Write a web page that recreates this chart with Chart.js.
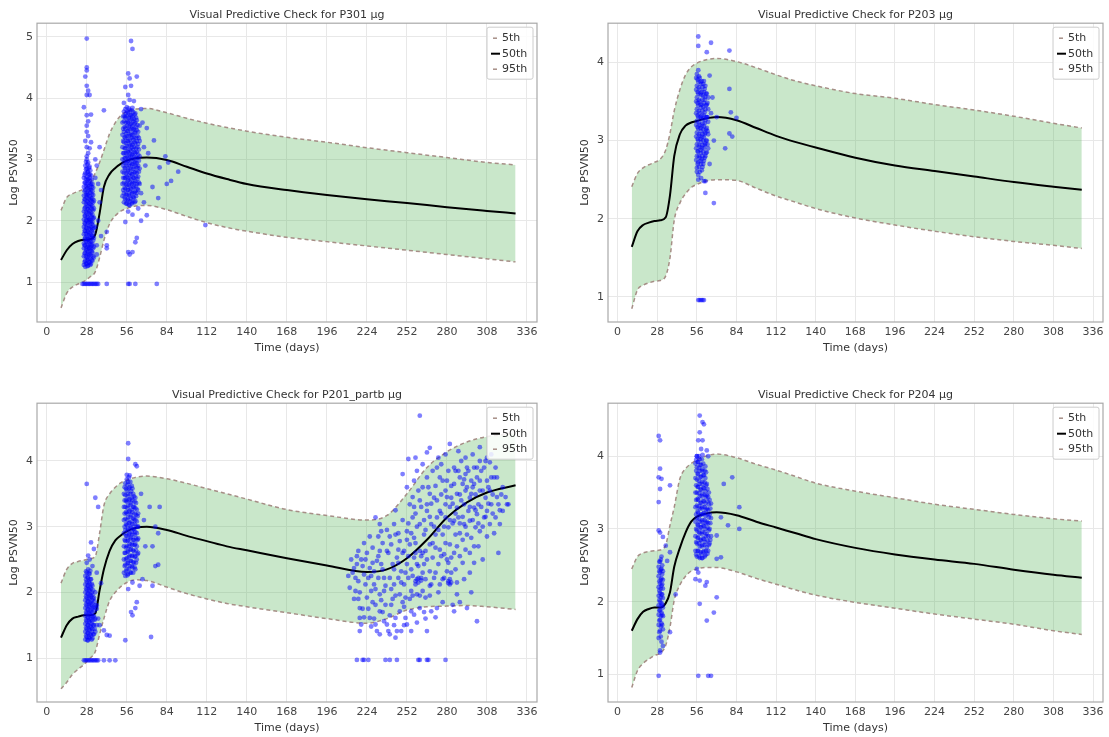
<!DOCTYPE html>
<html>
<head>
<meta charset="utf-8">
<title>Visual Predictive Check</title>
<script src="https://cdn.jsdelivr.net/npm/chart.js@4.4.1/dist/chart.umd.min.js"></script>
<style>
  html, body { margin: 0; padding: 0; background: #fff; overflow: hidden; }
  body { width: 1109px; height: 737px; position: relative; }
  canvas { position: absolute; }
</style>
</head>
<body>
<canvas id="p301" width="555" height="368" style="left:0px;top:0px"></canvas>
<canvas id="p203" width="538" height="368" style="left:571px;top:0px"></canvas>
<canvas id="p201" width="555" height="368" style="left:0px;top:380px"></canvas>
<canvas id="p204" width="538" height="368" style="left:571px;top:380px"></canvas>
<script>
// ---- data ----
const xTicks = [0, 28, 56, 84, 112, 140, 168, 196, 224, 252, 280, 308, 336];
const gridDays = [10, 14, 18, 22, 26, 30, 34, 37, 40, 44, 48, 52, 56, 62, 70, 84, 98, 112, 126, 140, 168, 196, 224, 252, 280, 308, 328];
const blDays = [10, 14, 18, 22, 26, 30, 34, 37, 40, 44, 48, 52, 56, 62, 70, 84, 98, 112, 126, 140, 168, 196, 224, 238, 252, 266, 280, 294, 308, 328];

// P301
const tlP5 = [0.58, 0.82, 0.92, 0.97, 1.01, 1.08, 1.17, 1.40, 1.68, 1.95, 2.08, 2.16, 2.20, 2.24, 2.25, 2.18, 2.07, 1.97, 1.89, 1.83, 1.73, 1.66, 1.59, 1.52, 1.45, 1.38, 1.33];
const tlP50 = [1.36, 1.52, 1.62, 1.67, 1.69, 1.70, 1.78, 2.12, 2.55, 2.76, 2.86, 2.93, 2.98, 3.02, 3.03, 2.99, 2.88, 2.77, 2.68, 2.60, 2.50, 2.42, 2.35, 2.29, 2.22, 2.16, 2.12];
const tlP95 = [2.17, 2.38, 2.44, 2.48, 2.52, 2.60, 2.78, 2.95, 3.15, 3.42, 3.60, 3.72, 3.78, 3.82, 3.83, 3.76, 3.67, 3.59, 3.52, 3.46, 3.36, 3.28, 3.19, 3.11, 3.03, 2.95, 2.91];
const tlCols = [
  [26, [1.28, 1.42, 1.55, 1.63, 1.78, 1.9, 2.02, 2.15, 2.3, 2.41, 2.55, 2.7]],
  [26.5, [1.33, 1.47, 1.6, 1.7, 1.84, 1.96, 2.08, 2.2, 2.35, 2.48, 2.62, 2.75]],
  [27, [1.25, 1.35, 1.48, 1.6, 1.72, 1.83, 1.95, 2.08, 2.22, 2.35, 2.5, 2.62, 2.78, 2.9]],
  [27.5, [1.3, 1.42, 1.54, 1.66, 1.78, 1.89, 2.01, 2.14, 2.28, 2.42, 2.56, 2.68, 2.84, 2.96]],
  [28, [1.3, 1.4, 1.52, 1.66, 1.75, 1.88, 2.0, 2.12, 2.25, 2.38, 2.46, 2.6, 2.72, 2.85, 3.0]],
  [28.5, [1.26, 1.36, 1.46, 1.58, 1.7, 1.82, 1.94, 2.06, 2.19, 2.32, 2.42, 2.53, 2.66, 2.79, 2.92]],
  [29, [1.27, 1.38, 1.5, 1.6, 1.7, 1.82, 1.97, 2.05, 2.18, 2.3, 2.44, 2.57, 2.68, 2.8, 2.95]],
  [29.5, [1.32, 1.44, 1.55, 1.65, 1.76, 1.88, 2.01, 2.12, 2.24, 2.36, 2.5, 2.62, 2.74, 2.86]],
  [30, [1.32, 1.45, 1.57, 1.68, 1.8, 1.92, 2.03, 2.16, 2.28, 2.4, 2.52, 2.65, 2.76, 2.88]],
  [30.5, [1.28, 1.38, 1.51, 1.62, 1.74, 1.86, 1.98, 2.1, 2.22, 2.34, 2.46, 2.58, 2.7, 2.82]],
  [31, [1.3, 1.43, 1.55, 1.66, 1.77, 1.9, 2.0, 2.13, 2.26, 2.37, 2.5, 2.6, 2.74]],
  [31.5, [1.36, 1.5, 1.6, 1.72, 1.83, 1.95, 2.06, 2.19, 2.31, 2.43, 2.55, 2.67]],
  [32, [1.35, 1.48, 1.62, 1.75, 1.86, 1.98, 2.1, 2.24, 2.36, 2.48, 2.6]],
  [32.5, [1.42, 1.55, 1.68, 1.8, 1.92, 2.04, 2.17, 2.3, 2.42, 2.54]],
  [33, [1.4, 1.58, 1.72, 1.88, 2.05, 2.2, 2.33]],
  [53, [2.4, 2.6, 2.8, 3.0, 3.2, 3.4, 3.6]],
  [53.5, [2.5, 2.7, 2.9, 3.1, 3.3, 3.5, 3.7]],
  [54, [2.3, 2.45, 2.62, 2.78, 2.95, 3.1, 3.28, 3.45, 3.62, 3.78]],
  [54.5, [2.38, 2.54, 2.7, 2.86, 3.02, 3.18, 3.36, 3.53, 3.7]],
  [55, [2.35, 2.52, 2.7, 2.85, 3.02, 3.18, 3.35, 3.5, 3.68, 3.82]],
  [55.5, [2.28, 2.44, 2.6, 2.77, 2.94, 3.1, 3.26, 3.42, 3.6, 3.75]],
  [56, [2.28, 2.42, 2.58, 2.72, 2.9, 3.05, 3.22, 3.38, 3.55, 3.7, 3.85]],
  [56.5, [2.35, 2.5, 2.65, 2.8, 2.97, 3.13, 3.3, 3.46, 3.62, 3.78]],
  [57, [2.33, 2.5, 2.66, 2.82, 2.98, 3.12, 3.3, 3.46, 3.6, 3.76]],
  [57.5, [2.26, 2.42, 2.58, 2.74, 2.9, 3.05, 3.21, 3.38, 3.53, 3.68, 3.83]],
  [58, [2.25, 2.4, 2.55, 2.7, 2.86, 3.02, 3.16, 3.32, 3.5, 3.65, 3.8]],
  [58.5, [2.32, 2.48, 2.62, 2.78, 2.94, 3.09, 3.24, 3.4, 3.57, 3.72]],
  [59, [2.36, 2.52, 2.68, 2.84, 3.0, 3.14, 3.27, 3.42, 3.58, 3.72]],
  [59.5, [2.28, 2.44, 2.6, 2.76, 2.92, 3.07, 3.2, 3.35, 3.5, 3.65, 3.8]],
  [60, [2.3, 2.46, 2.62, 2.76, 2.92, 3.08, 3.24, 3.4, 3.55, 3.7, 3.84]],
  [60.5, [2.38, 2.54, 2.7, 2.84, 3.0, 3.16, 3.32, 3.48, 3.62, 3.77]],
  [61, [2.38, 2.55, 2.7, 2.88, 3.04, 3.2, 3.36, 3.5, 3.66]],
  [61.5, [2.3, 2.46, 2.62, 2.79, 2.96, 3.12, 3.28, 3.43, 3.58, 3.73]],
  [62, [2.32, 2.48, 2.65, 2.8, 2.95, 3.1, 3.26, 3.44, 3.6, 3.75]],
  [62.5, [2.4, 2.56, 2.72, 2.88, 3.03, 3.18, 3.35, 3.52, 3.68]],
  [63, [2.45, 2.6, 2.78, 2.94, 3.12, 3.3, 3.48, 3.64]],
  [63.5, [2.52, 2.68, 2.86, 3.02, 3.2, 3.38, 3.56]],
  [64, [2.5, 2.72, 2.9, 3.08, 3.25, 3.45]],
  [64.5, [2.62, 2.8, 2.98, 3.16, 3.35]],
  [65, [2.6, 2.85, 3.05, 3.3, 3.55]]
];
const tlPts = [
  [28, 3.05], [29, 3.1], [28, 3.2], [30, 3.18], [27, 3.3], [29, 3.38], [28, 3.45], [31, 3.28], [37, 3.2], [28, 3.55],
  [29, 3.62], [28, 3.72], [26, 3.85], [31, 3.73], [28, 4.05], [30, 4.05], [29, 4.12], [28, 4.2], [27, 4.35], [28, 4.45],
  [28, 4.5], [28, 4.97], [40, 3.8], [34, 3.0], [35, 2.9], [36, 2.6], [38, 2.5], [37, 2.3], [34, 2.7],
  [34, 1.9], [35, 1.6], [38, 1.75], [42, 1.82], [42, 1.6], [42, 1.55], [36, 2.0], [35, 1.45],
  [59, 4.93], [60, 4.8], [57, 4.4], [58, 4.32], [63, 4.35], [55, 4.18], [59, 4.2], [57, 4.05], [58, 3.97], [54, 3.92],
  [61, 3.95], [66, 3.82], [70, 3.51], [75, 3.31], [79, 2.87], [83, 3.05], [85, 2.95], [87, 2.65], [92, 2.8], [74, 2.55],
  [70, 2.09], [78, 2.37], [84, 2.6], [111, 1.93], [57, 1.49], [58, 1.45], [60, 1.49], [62, 1.65], [63, 1.72], [60, 2.1],
  [57, 2.15], [55, 1.98], [66, 2.0], [64, 2.2], [68, 2.3], [67, 3.6], [68, 3.2], [69, 2.9], [71, 3.1], [66, 2.45],
  [25, 0.97], [26, 0.97], [27, 0.97], [28, 0.97], [29, 0.97], [30, 0.97], [31, 0.97], [32, 0.97], [33, 0.97], [34, 0.97],
  [35, 0.97], [36, 0.97], [42, 0.97], [57, 0.97], [58, 0.97], [62, 0.97], [77, 0.97]
];

// P203
const trP5 = [0.85, 1.09, 1.15, 1.18, 1.20, 1.21, 1.27, 1.50, 1.98, 2.20, 2.32, 2.40, 2.44, 2.48, 2.50, 2.49, 2.39, 2.29, 2.21, 2.13, 2.01, 1.92, 1.84, 1.77, 1.71, 1.66, 1.62];
const trP50 = [1.64, 1.84, 1.92, 1.95, 1.97, 1.98, 2.02, 2.30, 2.80, 3.08, 3.19, 3.23, 3.25, 3.28, 3.30, 3.26, 3.16, 3.06, 2.98, 2.91, 2.78, 2.68, 2.61, 2.54, 2.47, 2.41, 2.37];
const trP95 = [2.41, 2.58, 2.65, 2.69, 2.72, 2.76, 2.88, 3.09, 3.38, 3.65, 3.84, 3.94, 3.99, 4.03, 4.05, 4.01, 3.93, 3.84, 3.76, 3.70, 3.60, 3.54, 3.46, 3.39, 3.31, 3.22, 3.16];
const trCols = [
  [55.5, [2.75, 2.9, 3.05, 3.2, 3.35, 3.5, 3.65, 3.8]],
  [56, [2.65, 2.8, 2.95, 3.1, 3.25, 3.4, 3.55, 3.7, 3.85]],
  [56.5, [2.7, 2.86, 3.02, 3.17, 3.32, 3.48, 3.62, 3.78]],
  [57, [2.72, 2.86, 3.0, 3.15, 3.3, 3.45, 3.6, 3.75]],
  [57.5, [2.66, 2.8, 2.94, 3.08, 3.23, 3.38, 3.52, 3.68, 3.82]],
  [58, [2.6, 2.78, 2.92, 3.06, 3.2, 3.35, 3.5, 3.65, 3.8]],
  [58.5, [2.74, 2.88, 3.02, 3.16, 3.3, 3.46, 3.6, 3.75]],
  [59, [2.7, 2.84, 2.98, 3.12, 3.28, 3.42, 3.58, 3.72]],
  [59.5, [2.62, 2.76, 2.9, 3.04, 3.18, 3.32, 3.46, 3.62, 3.76]],
  [60, [2.66, 2.8, 2.94, 3.08, 3.22, 3.38, 3.52, 3.68]],
  [60.5, [2.7, 2.85, 3.0, 3.14, 3.28, 3.43, 3.57, 3.72]],
  [61, [2.74, 2.9, 3.04, 3.18, 3.32, 3.48, 3.62, 3.76]],
  [61.5, [2.78, 2.94, 3.08, 3.22, 3.36, 3.52, 3.66]],
  [62, [2.8, 2.96, 3.1, 3.26, 3.4, 3.56, 3.7]],
  [62.5, [2.84, 3.0, 3.14, 3.3, 3.45, 3.6]],
  [63, [2.85, 3.0, 3.16, 3.3, 3.46, 3.6]],
  [63.5, [2.95, 3.12, 3.3, 3.48]],
  [64, [2.9, 3.08, 3.24, 3.4, 3.55]]
];
const trPts = [
  [57, 4.33], [57, 4.21], [66, 4.25], [63, 4.13], [79, 4.15], [57, 3.9], [65, 3.83], [79, 3.66], [80, 3.36], [84, 3.29],
  [79, 3.09], [81, 3.05], [76, 2.9], [57, 2.56], [57, 2.5], [61, 2.48], [62, 2.48], [62, 2.33], [68, 2.2], [66, 3.35],
  [68, 3.0], [67, 3.55], [70, 3.3], [65, 2.7], [56, 2.6], [59, 2.52],
  [57, 0.96], [58, 0.96], [59, 0.96], [60, 0.96], [61, 0.96]
];

// P201_partb
const blP5 = [0.53, 0.63, 0.75, 0.83, 0.90, 0.99, 1.10, 1.36, 1.60, 1.87, 2.00, 2.09, 2.15, 2.19, 2.18, 2.08, 1.98, 1.90, 1.83, 1.78, 1.69, 1.60, 1.53, 1.60, 1.73, 1.78, 1.79, 1.80, 1.78, 1.74];
const blP50 = [1.31, 1.50, 1.60, 1.63, 1.65, 1.65, 1.68, 2.03, 2.35, 2.63, 2.79, 2.87, 2.93, 2.98, 3.00, 2.95, 2.86, 2.78, 2.70, 2.64, 2.52, 2.41, 2.31, 2.35, 2.52, 2.80, 3.14, 3.37, 3.52, 3.63];
const blP95 = [2.14, 2.35, 2.44, 2.47, 2.49, 2.51, 2.55, 2.90, 3.32, 3.50, 3.60, 3.67, 3.71, 3.75, 3.77, 3.73, 3.66, 3.58, 3.50, 3.42, 3.26, 3.17, 3.10, 3.17, 3.50, 3.90, 4.14, 4.29, 4.37, 4.42];
const blCols = [
  [27, [1.28, 1.4, 1.52, 1.64, 1.76, 1.88, 2.0, 2.12, 2.25]],
  [27.5, [1.34, 1.46, 1.58, 1.7, 1.82, 1.94, 2.06, 2.19, 2.32]],
  [28, [1.32, 1.44, 1.56, 1.68, 1.8, 1.92, 2.04, 2.16, 2.3]],
  [28.5, [1.27, 1.38, 1.5, 1.62, 1.74, 1.86, 1.98, 2.1, 2.23]],
  [29, [1.27, 1.38, 1.5, 1.62, 1.74, 1.86, 1.98, 2.1, 2.22, 2.35]],
  [29.5, [1.32, 1.44, 1.56, 1.68, 1.8, 1.92, 2.04, 2.16, 2.29]],
  [30, [1.3, 1.42, 1.54, 1.66, 1.78, 1.9, 2.02, 2.14, 2.28]],
  [30.5, [1.36, 1.48, 1.6, 1.72, 1.84, 1.96, 2.08, 2.2, 2.33]],
  [31, [1.34, 1.46, 1.58, 1.7, 1.82, 1.94, 2.06, 2.2]],
  [31.5, [1.28, 1.4, 1.52, 1.64, 1.76, 1.88, 2.0, 2.13]],
  [32, [1.3, 1.44, 1.57, 1.7, 1.83, 1.96, 2.1]],
  [32.5, [1.36, 1.5, 1.63, 1.76, 1.9, 2.03]],
  [33, [1.36, 1.5, 1.64, 1.78, 1.92]],
  [33.5, [1.44, 1.58, 1.72, 1.86]],
  [34, [1.4, 1.6, 1.8, 2.0]],
  [35, [1.5, 1.75]],
  [54, [2.3, 2.5, 2.7, 2.9, 3.1, 3.3, 3.5]],
  [54.5, [2.4, 2.6, 2.8, 3.0, 3.2, 3.4, 3.6]],
  [55, [2.25, 2.42, 2.6, 2.78, 2.95, 3.12, 3.3, 3.48, 3.66]],
  [55.5, [2.32, 2.5, 2.68, 2.86, 3.04, 3.22, 3.4, 3.58]],
  [56, [2.35, 2.52, 2.7, 2.86, 3.02, 3.2, 3.38, 3.55, 3.72]],
  [56.5, [2.26, 2.44, 2.62, 2.78, 2.94, 3.1, 3.28, 3.46, 3.64]],
  [57, [2.28, 2.45, 2.62, 2.8, 2.97, 3.14, 3.32, 3.5, 3.68]],
  [57.5, [2.36, 2.54, 2.7, 2.88, 3.05, 3.22, 3.4, 3.58, 3.75]],
  [58, [2.4, 2.56, 2.74, 2.9, 3.06, 3.24, 3.42, 3.6, 3.78]],
  [58.5, [2.3, 2.48, 2.65, 2.82, 2.98, 3.15, 3.33, 3.5, 3.68]],
  [59, [2.3, 2.48, 2.66, 2.84, 3.0, 3.18, 3.36, 3.54]],
  [59.5, [2.4, 2.56, 2.74, 2.92, 3.08, 3.26, 3.44, 3.62]],
  [60, [2.38, 2.55, 2.72, 2.88, 3.04, 3.22, 3.4, 3.58]],
  [60.5, [2.3, 2.46, 2.64, 2.8, 2.96, 3.13, 3.3, 3.5]],
  [61, [2.45, 2.62, 2.8, 2.96, 3.12, 3.3, 3.46]],
  [61.5, [2.38, 2.54, 2.72, 2.88, 3.04, 3.2, 3.38]],
  [62, [2.35, 2.55, 2.74, 2.92, 3.1, 3.28, 3.44]],
  [62.5, [2.45, 2.64, 2.82, 3.0, 3.18, 3.36]],
  [63, [2.5, 2.7, 2.9, 3.08, 3.26]],
  [63.5, [2.58, 2.8, 3.0, 3.16]],
  [64, [2.6, 2.82, 3.0, 3.2]]
];
const blPts = [
  [28, 3.65], [34, 3.44], [36, 3.3], [31, 2.76], [29, 2.56], [33, 2.66], [28, 2.45], [30, 2.5], [32, 2.4], [35, 2.3],
  [38, 2.14], [40, 1.42], [42, 1.35], [44, 1.34], [35, 1.8], [36, 1.6], [37, 1.5],
  [26, 0.965], [27, 0.965], [28, 0.965], [29, 0.965], [30, 0.965], [31, 0.965], [32, 0.965], [33, 0.965], [34, 0.965],
  [35, 0.965], [36, 0.965], [40, 0.965], [44, 0.965], [48, 0.965],
  [57, 4.27], [57, 4.03], [62, 3.95], [63, 3.92], [56, 3.79], [72, 3.3], [79, 3.3], [78, 2.9], [74, 2.7], [76, 3.0],
  [63, 1.85], [62, 1.76], [60, 1.65], [59, 1.7], [55, 1.27], [73, 1.32], [76, 2.4], [78, 2.42], [74, 2.1], [67, 2.2],
  [66, 3.5], [68, 3.1], [65, 2.1], [57, 2.05], [60, 2.15], [69, 2.7]
];
const blCloud = [
  [211, 2.25], [212, 2.07], [213, 2.50], [215, 2.37], [216, 2.22], [216, 2.02], [217, 2.43], [218, 2.63], [219, 1.61], [219, 1.41],
  [219, 1.76], [220, 1.51], [218, 2.17], [220, 2.50], [222, 2.27], [223, 2.12], [223, 2.50], [224, 1.92], [225, 2.22], [226, 2.37],
  [226, 1.61], [227, 2.02], [227, 1.48], [228, 2.68], [229, 2.32], [229, 2.12], [230, 1.81], [230, 1.51], [231, 1.41], [231, 2.48],
  [232, 2.22], [233, 1.97], [233, 2.63], [233, 1.71], [230, 3.14], [233, 3.04], [234, 2.93], [234, 2.43], [236, 2.22], [236, 2.02],
  [237, 1.81], [238, 1.51], [238, 2.63], [239, 1.41], [240, 2.22], [241, 2.73], [241, 1.81], [242, 2.43], [243, 3.04], [243, 2.12],
  [244, 1.61], [244, 2.88], [245, 1.41], [245, 2.53], [246, 2.22], [247, 1.97], [247, 1.71], [244, 1.31], [248, 1.41], [247, 2.78],
  [248, 2.32], [250, 2.63], [250, 2.12], [251, 1.92], [251, 1.61], [252, 2.93], [252, 2.43], [253, 2.22], [254, 2.73], [254, 3.34],
  [255, 2.02], [255, 1.71], [256, 3.14], [257, 2.53], [257, 2.83], [258, 2.17], [258, 2.12], [259, 2.43], [259, 1.97], [260, 2.22],
  [261, 3.04], [261, 2.63], [261, 1.76], [259, 1.54], [262, 2.22], [263, 2.02], [264, 2.43], [264, 2.88], [265, 2.63], [265, 1.92],
  [266, 3.34], [266, 3.24], [267, 3.60], [268, 2.32], [268, 2.73], [269, 2.12], [269, 3.04], [270, 2.53], [271, 3.44], [271, 2.22],
  [272, 2.88], [272, 2.68], [273, 1.76], [273, 3.14], [274, 2.43], [275, 2.12], [275, 3.75], [275, 3.24], [276, 3.49], [277, 2.88],
  [278, 2.58], [278, 2.22], [279, 3.14], [279, 3.34], [280, 2.32], [280, 3.70], [281, 2.99], [282, 2.12], [282, 2.73], [283, 2.53],
  [283, 3.44], [284, 1.81], [285, 3.09], [285, 3.65], [286, 2.88], [286, 3.85], [287, 3.29], [287, 1.97], [288, 3.14], [289, 3.75],
  [289, 3.49], [281, 2.17], [283, 2.15], [285, 1.71], [290, 4.00], [291, 3.65], [292, 3.34], [292, 3.04], [293, 3.80], [293, 3.55],
  [294, 2.88], [294, 3.90], [295, 3.24], [296, 3.44], [296, 3.09], [297, 3.70], [297, 2.83], [298, 3.60], [299, 3.29], [299, 3.90],
  [300, 2.99], [300, 3.49], [301, 3.19], [301, 3.75], [302, 3.34], [303, 2.93], [303, 3.55], [294, 1.76], [301, 1.56], [304, 3.85],
  [306, 3.14], [307, 3.44], [307, 4.00], [308, 3.24], [309, 3.60], [310, 3.04], [311, 3.75], [311, 3.34], [312, 3.49], [314, 3.14],
  [315, 3.75], [316, 3.34], [317, 3.04], [318, 3.49], [319, 3.24], [322, 3.34], [323, 3.34], [303, 4.00], [310, 3.98],
  [261, 4.69], [253, 4.03], [266, 4.13], [274, 4.05], [282, 4.26], [293, 4.05], [308, 4.05], [303, 4.21], [273, 3.90],
  [233, 1.36], [240, 1.36], [252, 1.51], [255, 1.41], [266, 1.41], [269, 1.71],
  [252, 3.6], [256, 3.45], [258, 3.2], [260, 3.55], [262, 3.3], [264, 3.1], [257, 3.7], [259, 3.85], [263, 3.95], [268, 3.5],
  [270, 3.85], [276, 3.95], [279, 3.55], [282, 3.3], [284, 3.05], [287, 2.7], [289, 2.55], [291, 2.8], [296, 2.6], [299, 2.7],
  [305, 3.0], [308, 2.85], [313, 2.9], [316, 2.6], [246, 2.9], [249, 3.1], [244, 3.25], [238, 2.95], [235, 2.75], [226, 2.85],
  [222, 2.75], [215, 1.9], [221, 1.75], [228, 1.85], [235, 1.7], [242, 1.9], [249, 1.85], [255, 2.35], [262, 2.55], [268, 1.95],
  [275, 2.65], [280, 2.5], [286, 2.35], [292, 2.2], [262, 2.18], [260, 2.15], [281, 2.14], [282, 2.2], [259, 2.2],
  [214, 2.3], [217, 2.55], [219, 2.0], [221, 2.4], [224, 2.6], [225, 1.75], [227, 2.25], [228, 2.45], [230, 2.05], [232, 2.55],
  [234, 1.88], [235, 2.35], [237, 2.1], [239, 2.6], [240, 1.65], [241, 2.05], [243, 2.35], [244, 1.95], [246, 2.45], [248, 2.15],
  [249, 2.6], [250, 1.78], [251, 2.3], [253, 2.55], [254, 1.9], [256, 2.25], [257, 1.66], [258, 2.6], [260, 2.4], [261, 1.95],
  [263, 2.3], [264, 1.7], [265, 2.2], [218, 1.9], [222, 1.62], [229, 1.6], [236, 1.56], [243, 1.5], [250, 1.5], [256, 1.95],
  [263, 2.6], [258, 2.75], [252, 2.8], [246, 2.65], [240, 2.85], [232, 2.85],
  [253, 3.05], [255, 2.9], [257, 3.3], [259, 3.0], [261, 3.4], [263, 3.6], [265, 2.95], [266, 3.75], [268, 3.15], [269, 3.35],
  [271, 3.0], [272, 3.62], [273, 3.4], [274, 2.95], [276, 3.2], [277, 3.7], [278, 3.0], [280, 3.45], [281, 3.85], [282, 3.1],
  [283, 3.62], [284, 3.35], [285, 3.9], [286, 3.2], [287, 3.5], [288, 3.85], [289, 3.05], [290, 3.4], [291, 3.15], [292, 3.72],
  [293, 3.0], [294, 3.6], [295, 3.85], [296, 3.3], [297, 3.5], [298, 3.1], [299, 3.65], [300, 3.25], [301, 3.9], [302, 3.05],
  [303, 3.7], [304, 3.3], [305, 3.55], [306, 3.9], [307, 3.15], [308, 3.7], [309, 3.35], [310, 3.55], [312, 3.2], [313, 3.75],
  [315, 3.45], [317, 3.25], [319, 3.6], [321, 3.45], [314, 3.9], [311, 4.1], [298, 4.1], [288, 4.15], [279, 4.1], [268, 4.2],
  [258, 4.05], [249, 3.8],
  [266, 2.5], [268, 2.1], [270, 2.75], [272, 2.3], [274, 2.0], [276, 2.55], [277, 2.2], [279, 2.75], [281, 2.45], [283, 2.3],
  [285, 2.6], [287, 2.15], [289, 2.9], [291, 2.45], [293, 2.65], [296, 2.3], [299, 2.45], [302, 2.7], [305, 2.5], [277, 1.85],
  [272, 1.62], [265, 1.6], [289, 1.85], [297, 2.0],
  [217, 0.97], [221, 0.97], [222, 0.97], [225, 0.97], [237, 0.97], [240, 0.97], [245, 0.97], [260, 0.97], [261, 0.97],
  [266, 0.97], [267, 0.97], [279, 0.97]
];

// P204
const brP5 = [0.82, 1.05, 1.15, 1.21, 1.26, 1.29, 1.40, 1.65, 2.02, 2.23, 2.35, 2.42, 2.45, 2.47, 2.47, 2.41, 2.32, 2.24, 2.16, 2.09, 1.99, 1.91, 1.83, 1.76, 1.69, 1.60, 1.55];
const brP50 = [1.60, 1.76, 1.86, 1.90, 1.92, 1.92, 1.98, 2.13, 2.48, 2.74, 2.95, 3.10, 3.17, 3.21, 3.23, 3.19, 3.10, 3.02, 2.94, 2.86, 2.74, 2.65, 2.58, 2.52, 2.44, 2.37, 2.33];
const brP95 = [2.45, 2.62, 2.67, 2.69, 2.70, 2.71, 2.78, 3.05, 3.30, 3.69, 3.83, 3.90, 3.95, 4.00, 4.03, 3.98, 3.89, 3.81, 3.72, 3.63, 3.52, 3.43, 3.34, 3.27, 3.20, 3.14, 3.11];
const brCols = [
  [29, [1.5, 1.68, 1.82, 1.95, 2.08, 2.2, 2.35, 2.48]],
  [29.5, [1.58, 1.74, 1.88, 2.02, 2.15, 2.28, 2.42, 2.55]],
  [30, [1.3, 1.6, 1.75, 1.88, 2.0, 2.12, 2.25, 2.4, 2.55]],
  [30.5, [1.52, 1.66, 1.8, 1.94, 2.06, 2.18, 2.3, 2.44, 2.58]],
  [31, [1.45, 1.7, 1.85, 1.98, 2.1, 2.22, 2.32, 2.45, 2.62]],
  [31.5, [1.68, 1.82, 1.96, 2.1, 2.24, 2.38, 2.5]],
  [32, [1.62, 1.8, 1.92, 2.05, 2.18, 2.3, 2.42]],
  [55, [2.7, 2.9, 3.1, 3.3, 3.5, 3.7, 3.9]],
  [55.5, [2.65, 2.82, 3.0, 3.2, 3.4, 3.6, 3.8, 3.95]],
  [56, [2.62, 2.8, 2.98, 3.15, 3.32, 3.5, 3.68, 3.85, 4.0]],
  [56.5, [2.7, 2.88, 3.06, 3.24, 3.41, 3.58, 3.76, 3.92]],
  [57, [2.7, 2.88, 3.05, 3.22, 3.4, 3.58, 3.75, 3.92]],
  [57.5, [2.62, 2.8, 2.96, 3.14, 3.31, 3.49, 3.66, 3.84, 4.0]],
  [58, [2.6, 2.76, 2.94, 3.1, 3.28, 3.45, 3.62, 3.8, 3.96]],
  [58.5, [2.68, 2.85, 3.02, 3.19, 3.36, 3.54, 3.71, 3.88]],
  [59, [2.66, 2.84, 3.02, 3.2, 3.36, 3.54, 3.72, 3.88]],
  [59.5, [2.6, 2.76, 2.93, 3.1, 3.28, 3.45, 3.62, 3.8, 3.96]],
  [60, [2.6, 2.78, 2.96, 3.12, 3.3, 3.48, 3.65, 3.82, 4.02]],
  [60.5, [2.68, 2.87, 3.05, 3.21, 3.39, 3.57, 3.74, 3.9]],
  [61, [2.7, 2.86, 3.04, 3.22, 3.38, 3.56, 3.74]],
  [61.5, [2.62, 2.78, 2.95, 3.12, 3.3, 3.47, 3.64, 3.8]],
  [62, [2.64, 2.82, 3.0, 3.18, 3.35, 3.52, 3.7, 3.86]],
  [62.5, [2.7, 2.9, 3.08, 3.26, 3.44, 3.6, 3.78]],
  [63, [2.75, 2.93, 3.1, 3.28, 3.46, 3.62]],
  [63.5, [2.66, 2.84, 3.02, 3.2, 3.38, 3.55]],
  [64, [2.7, 2.9, 3.08, 3.26, 3.44]],
  [64.5, [2.78, 2.98, 3.16, 3.34, 3.5]],
  [65, [2.8, 3.0, 3.2, 3.4]],
  [65.5, [2.85, 3.08, 3.28]],
  [66, [2.9, 3.15, 3.35]]
];
const brPts = [
  [29, 4.28], [30, 4.22], [30, 3.83], [29, 3.71], [31, 3.69], [30, 3.55], [37, 3.6], [29, 3.37], [29, 2.98], [30, 2.95],
  [32, 2.89], [34, 2.77], [37, 2.68], [35, 2.56], [41, 2.1], [37, 1.58], [32, 1.39], [30, 1.33],
  [29, 0.98], [57, 0.98], [64, 0.98], [66, 0.98],
  [58, 4.56], [60, 4.47], [61, 4.44], [58, 4.33], [57, 4.22], [60, 4.22], [59, 4.1], [63, 4.08], [56, 4.0], [64, 4.0],
  [75, 3.62], [81, 3.71], [86, 3.3], [78, 3.05], [86, 3.0], [73, 3.16], [70, 2.91], [73, 2.61], [70, 2.59], [56, 2.45],
  [58, 2.29], [63, 2.27], [62, 2.22], [57, 2.4], [70, 2.06], [68, 1.85], [63, 1.74], [58, 1.97], [55, 2.31]
];

// ---- styling ----
const bandEdge = '#a68e86';
const bandFill = 'rgba(76, 175, 80, 0.3)';
const dotColor = 'rgba(0, 0, 255, 0.5)';
const gridColor = '#e8e8e8';
const textColor = '#333333';

Chart.defaults.font.family = "'DejaVu Sans', sans-serif";
Chart.defaults.font.size = 11;
Chart.defaults.color = textColor;

function toPoints(days, vals) {
  return days.map((d, i) => ({ x: d, y: vals[i] }));
}

function obsPoints(cols, pts) {
  const out = [];
  cols.forEach(([d, vs]) => vs.forEach(v => out.push({ x: d, y: v })));
  pts.forEach(([d, v]) => out.push({ x: d, y: v }));
  return out;
}

// box around the plot area, like the spines
const frame = {
  id: 'frame',
  afterDatasetsDraw(chart) {
    const { ctx, chartArea: a } = chart;
    ctx.save();
    ctx.strokeStyle = '#a9a9a9';
    ctx.lineWidth = 1.2;
    ctx.strokeRect(a.left, a.top, a.right - a.left, a.bottom - a.top);
    ctx.restore();
  }
};

// legend in the upper right corner of the plot area
const cornerLegend = {
  id: 'cornerLegend',
  afterDraw(chart) {
    const { ctx, chartArea: a } = chart;
    const items = chart.data.datasets.filter(d => d.type !== 'scatter');
    const w = 46, h = 52;
    const x = a.right - w - 4, y = a.top + 4;
    ctx.save();
    ctx.beginPath();
    const r = 2;
    ctx.moveTo(x + r, y);
    ctx.arcTo(x + w, y, x + w, y + h, r);
    ctx.arcTo(x + w, y + h, x, y + h, r);
    ctx.arcTo(x, y + h, x, y, r);
    ctx.arcTo(x, y, x + w, y, r);
    ctx.closePath();
    ctx.fillStyle = 'rgba(255,255,255,0.85)';
    ctx.fill();
    ctx.strokeStyle = '#cccccc';
    ctx.lineWidth = 1;
    ctx.stroke();
    items.forEach((d, i) => {
      const ly = y + 11 + i * 15.5;
      ctx.strokeStyle = d.borderColor;
      ctx.lineWidth = d.borderWidth;
      ctx.beginPath();
      if (d.borderDash) {
        ctx.moveTo(x + 6, ly); ctx.lineTo(x + 10, ly);
      } else {
        ctx.moveTo(x + 4, ly); ctx.lineTo(x + 13, ly);
      }
      ctx.stroke();
      ctx.fillStyle = textColor;
      ctx.font = "11px 'DejaVu Sans', sans-serif";
      ctx.textBaseline = 'middle';
      ctx.textAlign = 'left';
      ctx.fillText(d.label, x + 15, ly);
    });
    ctx.restore();
  }
};

function drawPanel(id, p) {
  new Chart(document.getElementById(id), {
    type: 'line',
    data: {
      datasets: [
        { label: '5th', data: toPoints(p.days, p.p5), borderColor: bandEdge, borderWidth: 1.5, borderDash: [4, 3],
          pointRadius: 0, fill: false, cubicInterpolationMode: 'monotone' },
        { label: '50th', data: toPoints(p.days, p.p50), borderColor: '#000000', borderWidth: 2,
          pointRadius: 0, fill: false, cubicInterpolationMode: 'monotone' },
        { label: '95th', data: toPoints(p.days, p.p95), borderColor: bandEdge, borderWidth: 1.5, borderDash: [4, 3],
          pointRadius: 0, fill: 0, backgroundColor: bandFill, cubicInterpolationMode: 'monotone' },
        { type: 'scatter', label: 'Observed', data: obsPoints(p.cols, p.pts), order: -1,
          pointRadius: 2.4, pointBackgroundColor: dotColor, pointBorderWidth: 0, borderWidth: 0 }
      ]
    },
    options: {
      responsive: false,
      animation: false,
      events: [],
      layout: { padding: { left: 0, right: p.padRight, top: 0, bottom: 0 } },
      plugins: {
        legend: { display: false },
        tooltip: { enabled: false },
        title: {
          display: true, text: p.title, fullSize: false, color: textColor,
          font: { size: 11, weight: 'normal' }, padding: { top: 9, bottom: 1 }
        }
      },
      scales: {
        x: {
          type: 'linear', min: -6.8, max: 343,
          afterFit: s => { s.height = 46; },
          afterBuildTicks: s => { s.ticks = xTicks.map(v => ({ value: v })); },
          grid: { color: gridColor, drawTicks: false },
          border: { display: false },
          ticks: { padding: 4, color: '#444444', callback: v => String(v) },
          title: { display: true, text: 'Time (days)', color: textColor, padding: { top: 0, bottom: 13 } }
        },
        y: {
          type: 'linear', min: p.yMin, max: p.yMax,
          afterFit: s => { s.width = 37; },
          afterBuildTicks: s => { s.ticks = p.yTicks.map(v => ({ value: v })); },
          grid: { color: gridColor, drawTicks: false },
          border: { display: false },
          ticks: { padding: 4, color: '#444444', callback: v => String(v) },
          title: { display: true, text: 'Log PSVN50', color: textColor, padding: { top: 8, bottom: 0 } }
        }
      }
    },
    plugins: [frame, cornerLegend]
  });
}

drawPanel('p301', { title: 'Visual Predictive Check for P301 µg', days: gridDays, p5: tlP5, p50: tlP50, p95: tlP95,
  cols: tlCols, pts: tlPts, yMin: 0.35, yMax: 5.22, yTicks: [1, 2, 3, 4, 5], padRight: 18 });
drawPanel('p203', { title: 'Visual Predictive Check for P203 µg', days: gridDays, p5: trP5, p50: trP50, p95: trP95,
  cols: trCols, pts: trPts, yMin: 0.68, yMax: 4.50, yTicks: [1, 2, 3, 4], padRight: 6 });
drawPanel('p201', { title: 'Visual Predictive Check for P201_partb µg', days: blDays, p5: blP5, p50: blP50, p95: blP95,
  cols: blCols, pts: blPts.concat(blCloud), yMin: 0.33, yMax: 4.88, yTicks: [1, 2, 3, 4], padRight: 18 });
drawPanel('p204', { title: 'Visual Predictive Check for P204 µg', days: gridDays, p5: brP5, p50: brP50, p95: brP95,
  cols: brCols, pts: brPts, yMin: 0.62, yMax: 4.73, yTicks: [1, 2, 3, 4], padRight: 6 });
</script>
</body>
</html>
